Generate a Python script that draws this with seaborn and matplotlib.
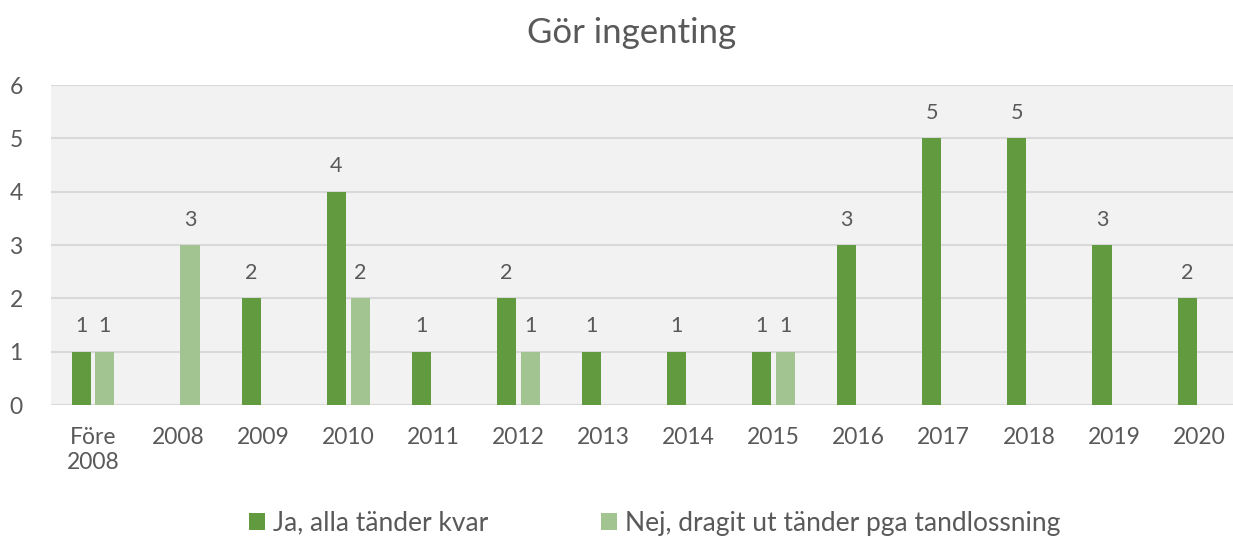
import matplotlib
matplotlib.use("Agg")
import matplotlib.pyplot as plt
import pandas as pd
import seaborn as sns

# Data
categories = ["Före\n2008", "2008", "2009", "2010", "2011", "2012", "2013",
              "2014", "2015", "2016", "2017", "2018", "2019", "2020"]
ja_values = [1, 0, 2, 4, 1, 2, 1, 1, 1, 3, 5, 5, 3, 2]
nej_values = [1, 3, 0, 2, 0, 1, 0, 0, 1, 0, 0, 0, 0, 0]
series_names = ["Ja, alla tänder kvar", "Nej, dragit ut tänder pga tandlossning"]
series_colors = ["#629B3F", "#A2C490"]

df = pd.DataFrame({
    "kategori": categories * 2,
    "antal": ja_values + nej_values,
    "serie": [series_names[0]] * len(categories) + [series_names[1]] * len(categories),
})

sns.set_theme(style="white")
plt.rcParams["font.family"] = ["Lato", "DejaVu Sans"]
text_color = "#595959"

fig = plt.figure(figsize=(12.33, 5.38), dpi=100)
# plot area runs past the right edge of the picture, as in the reference
ax = fig.add_axes([50.5 / 1233, 1 - 405 / 538, 1191 / 1233, 320 / 538])
ax.set_facecolor("#F2F2F2")

sns.barplot(data=df, x="kategori", y="antal", hue="serie", order=categories,
            hue_order=series_names, palette=series_colors, width=0.56, gap=0.2,
            saturation=1, linewidth=0, ax=ax, zorder=3)

# value labels, skip zeros
for container in ax.containers:
    labels = [f"{int(v)}" if v > 0 else "" for v in container.datavalues]
    ax.bar_label(container, labels=labels, padding=11, fontsize=15.5, color=text_color)

ax.set_ylim(0, 6)
ax.set_xlim(-0.5, len(categories) - 0.5)
ax.set_yticks(range(0, 7))
ax.yaxis.grid(True, color="#D9D9D9", linewidth=1.5, zorder=0)
ax.set_axisbelow(True)
for s in ax.spines.values():
    s.set_visible(False)
ax.tick_params(axis="both", length=0, labelsize=16.5, colors=text_color)
ax.tick_params(axis="x", pad=16)
ax.tick_params(axis="y", pad=20)
ax.set_xlabel("")
ax.set_ylabel("")

fig.suptitle("Gör ingenting", x=0.512, y=0.968, fontsize=25, color=text_color)

handles, lbls = ax.get_legend_handles_labels()
ax.legend_.remove()
fig.legend(handles, lbls, loc="lower center", bbox_to_anchor=(0.531, -0.04), ncol=2,
           frameon=False, fontsize=19, labelcolor=text_color, handlelength=0.6,
           handleheight=0.6, handletextpad=0.3, columnspacing=4.3)

fig.savefig("out.png", dpi=100)
